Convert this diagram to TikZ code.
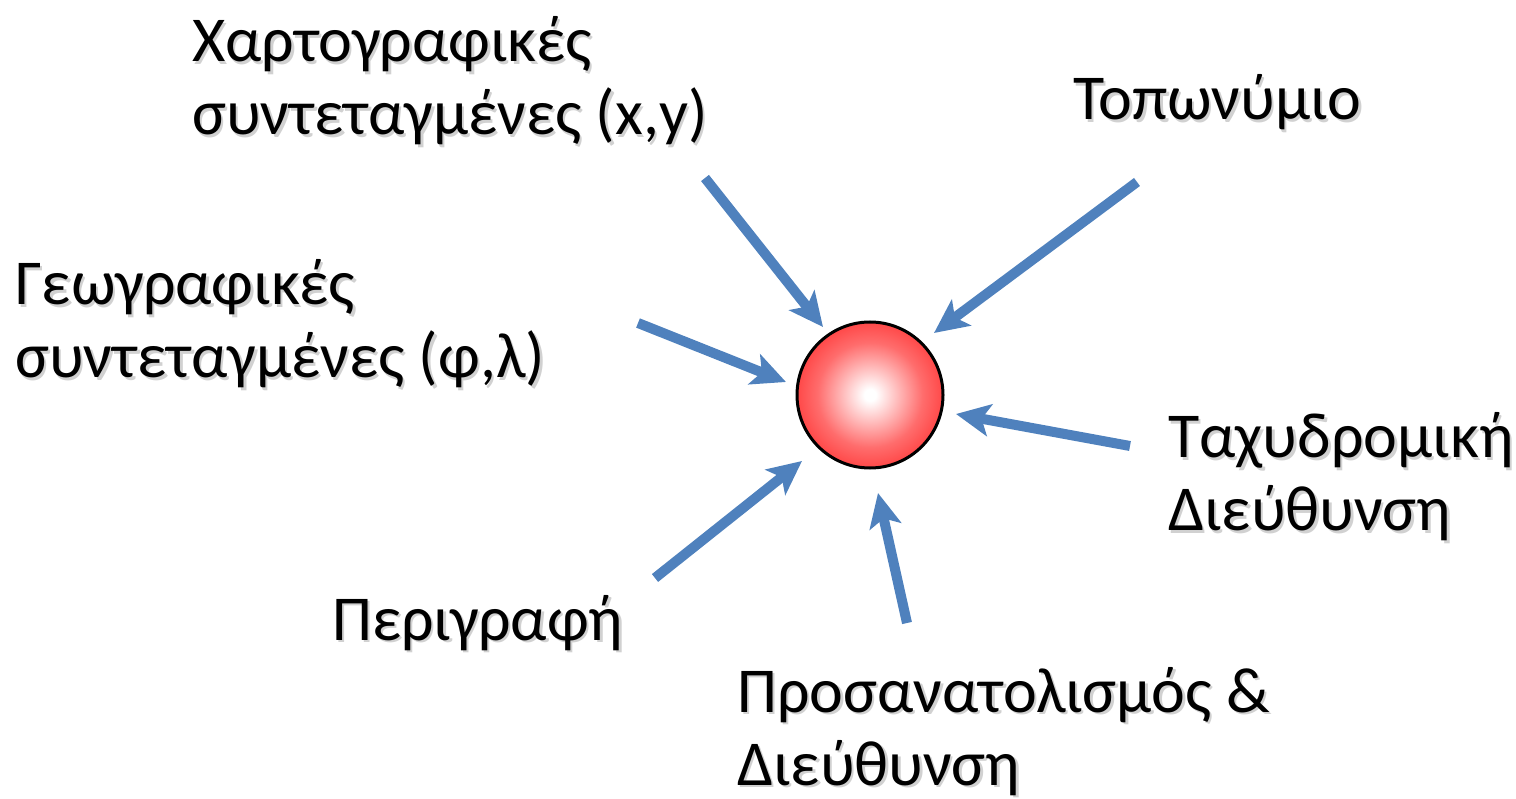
\documentclass[tikz,border=0pt]{standalone}
\usepackage{fontspec}
\setmainfont{Carlito}
\usetikzlibrary{arrows.meta}
\definecolor{arrowblue}{HTML}{4F81BD}
\definecolor{ballred}{RGB}{255,72,72}
\pgfdeclareradialshading{ballshade}{\pgfpoint{0bp}{0bp}}{%
  color(0bp)=(white); color(2bp)=(white); color(9bp)=(ballred!35!white);
  color(18bp)=(ballred!80!white); color(25bp)=(ballred); color(50bp)=(ballred)}
\tikzset{
  lbl/.style={anchor=base west, inner sep=0pt, font=\fontsize{64}{73}\selectfont},
  shadowlbl/.style={lbl, text=black!18},
  feed/.style={draw=arrowblue, line width=10pt, -{Stealth[length=34pt,width=32pt,inset=8pt]}},
  ball/.style={circle, draw=black, line width=3pt, minimum size=146pt, inner sep=0pt,
    shading=ballshade}
}
\newcommand{\lbltext}[1]{\begin{tabular}[t]{@{}l@{}}#1\end{tabular}}
\newcommand{\placelbl}[4]{%
  \node[shadowlbl] (#1s) at (#2+2.5,#3+2.5) {\lbltext{#4}};
  \node[lbl] (#1) at (#2,#3) {\lbltext{#4}};}
\begin{document}
\begin{tikzpicture}[x=1pt,y=-1pt]
\useasboundingbox (0,0) rectangle (1516,799);
\placelbl{cart}{192}{62}{Χαρτογραφικές\\συντεταγμένες (x,y)}
\placelbl{topo}{1073}{120}{Τοπωνύμιο}
\placelbl{geo}{15}{305}{Γεωγραφικές\\συντεταγμένες (φ,λ)}
\placelbl{post}{1168}{458}{Ταχυδρομική\\Διεύθυνση}
\placelbl{desc}{332}{640}{Περιγραφή}
\placelbl{orient}{737}{712}{Προσανατολισμός \&\\Διεύθυνση}
\node[ball] (c) at (870,395) {};
\coordinate (t1) at (705,178); \coordinate (h1) at (823,327);
\coordinate (t2) at (1137,182); \coordinate (h2) at (934,333);
\coordinate (t3) at (638,323); \coordinate (h3) at (786,382);
\coordinate (t4) at (1130,446); \coordinate (h4) at (956,414);
\coordinate (t5) at (655,578); \coordinate (h5) at (802,461);
\coordinate (t6) at (907,623); \coordinate (h6) at (878,493);
\foreach \i in {1,...,6} {\draw[feed] (t\i) -- (h\i);}
\end{tikzpicture}
\end{document}
